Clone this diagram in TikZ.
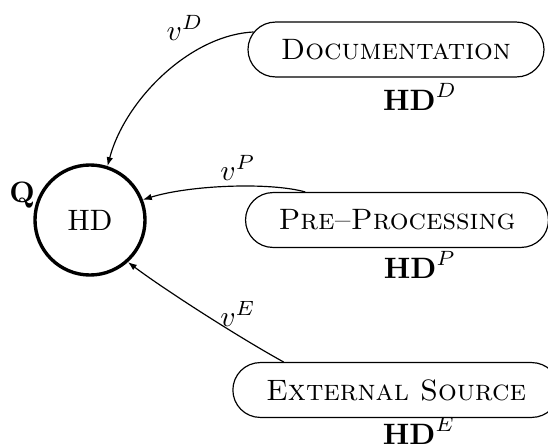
\documentclass[tikz,border=0pt]{standalone}
\usetikzlibrary{arrows.meta,shapes.misc}
\begin{document}
\begin{tikzpicture}[x=0.339pt,y=-0.339pt,
  src/.style={draw,rounded rectangle,minimum height=18.6pt,inner xsep=10.5pt,line width=0.4pt},
  hub/.style={draw,circle,minimum size=37.3pt,line width=1.15pt,inner sep=0pt},
  flow/.style={line width=0.4pt,-{Latex[length=3pt,width=2.2pt]}},
  lbl/.style={inner sep=0pt}]
\useasboundingbox (0,0) rectangle (548,446);
\node[hub] (C) at (90,220) {HD};
\node[lbl] (Q) at (22,195) {$\mathbf{Q}$};
\node[src] (doc) at (396,49.5) {\textsc{Documentation}};
\node[src] (pp) at (397,220) {\textsc{Pre--Processing}};
\node[src] (ext) at (396,390) {\textsc{External Source}};
\node[lbl] (hdd) at (420,97) {$\mathbf{HD}^D$};
\node[lbl] (hdp) at (420,265) {$\mathbf{HD}^P$};
\node[lbl] (hde) at (419,431) {$\mathbf{HD}^E$};
\draw[flow] (doc.173) .. controls (190,35) and (125,100) .. (C.72);
\draw[flow] (pp.163) .. controls (270,182) and (190,185) .. (C.21);
\draw[flow] (ext.166) .. controls (240,338) and (165,290) .. (C.-48);
\node[lbl] (vd) at (185,28) {$v^D$};
\node[lbl] (vp) at (238,168) {$v^P$};
\node[lbl] (ve) at (238,314) {$v^E$};
\end{tikzpicture}
\end{document}
